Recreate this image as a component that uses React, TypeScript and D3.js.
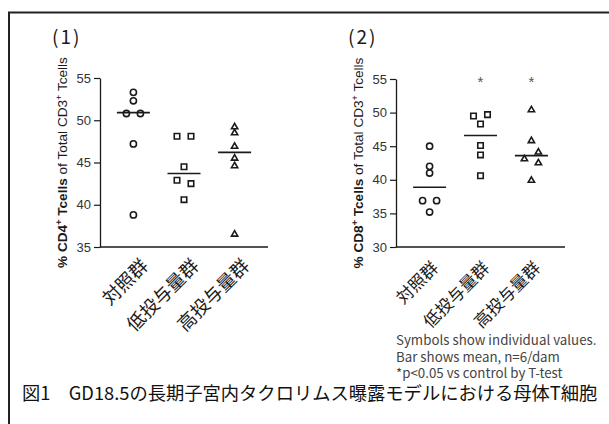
import React, { useEffect, useRef } from 'react';
import * as d3 from 'd3';

// categories and values
const categories = ['対照群', '低投与量群', '高投与量群'];

const cd4Control = [53.3, 52.3, 50.8, 50.8, 47.2, 38.8];
const cd4Low = [48.1, 48.1, 44.5, 42.9, 42.5, 40.6];
const cd4High = [49.2, 48.5, 46.9, 45.5, 44.6, 36.5];
const cd4Bars = [50.9, 43.7, 46.2];
const cd4Ticks = [35, 40, 45, 50, 55];
const cd4Sig = ['', '', ''];

const cd8Control = [45.0, 42.0, 41.0, 36.9, 36.9, 35.2];
const cd8Low = [49.5, 49.7, 48.3, 45.1, 43.7, 40.6];
const cd8High = [50.4, 45.8, 44.1, 43.1, 42.5, 39.9];
const cd8Bars = [38.9, 46.6, 43.6];
const cd8Ticks = [30, 35, 40, 45, 50, 55];
const cd8Sig = ['', '*', '*'];

const notes = [
  'Symbols show individual values.',
  'Bar shows mean, n=6/dam',
  '*p<0.05 vs control by T-test',
];
const caption = '図1　GD18.5の長期子宮内タクロリムス曝露モデルにおける母体T細胞';

const W = 609;
const H = 424;
const SANS = '"Liberation Sans", Arial, sans-serif';
const JP = '"Noto Sans CJK JP", "Noto Sans", sans-serif';
const INK = '#1a1a1a';

// spread points that would overlap sideways (Prism-like scatter)
const dodge = (vals: number[], y: (v: number) => number, gap = 14) => {
  const order = vals.map((v, i) => i).sort((a, b) => vals[b] - vals[a]);
  const clusters: number[][] = [];
  order.forEach((i, k) => {
    if (k > 0 && Math.abs(y(vals[i]) - y(vals[order[k - 1]])) < 5.5) {
      clusters[clusters.length - 1].push(i);
    } else clusters.push([i]);
  });
  const off = vals.map(() => 0);
  const multi: number[] = [];
  clusters.forEach(c => {
    if (c.length < 2) return;
    const s = [...c].sort((a, b) => a - b);
    s.forEach((i, k) => {
      off[i] = (k - (s.length - 1) / 2) * gap;
      multi.push(i);
    });
  });
  clusters.forEach(c => {
    if (c.length > 1) return;
    const i = c[0];
    multi.forEach(j => {
      if (Math.abs(off[j]) < 9 && Math.abs(y(vals[i]) - y(vals[j])) < 7) {
        off[i] = -Math.sign(off[j]) * (gap / 2);
      }
    });
  });
  return off;
};

type Panel = {
  left: number;
  right: number;
  top: number;
  bottom: number;
  domain: [number, number];
  ticks: number[];
  groups: number[][];
  bars: number[];
  sig: string[];
  cell: string;
  title: string;
  catSize: number;
  catDx: number;
  catDy: number;
};

const drawPanel = (svg: any, p: Panel) => {
  const g = svg.append('g');

  const x = d3
    .scalePoint()
    .domain(categories)
    .range([p.left, p.right])
    .padding(0.66);

  const y = d3.scaleLinear().domain(p.domain).range([p.bottom, p.top]);

  // title
  g.append('text')
    .attr('x', p.left - 48)
    .attr('y', 44)
    .attr('font-family', JP)
    .attr('font-size', 19)
    .attr('letter-spacing', 2)
    .attr('fill', INK)
    .text(p.title);

  // y axis
  const yAxis = g
    .append('g')
    .attr('transform', `translate(${p.left},0)`)
    .call(d3.axisLeft(y).tickValues(p.ticks).tickSize(6).tickSizeOuter(0).tickPadding(3));
  yAxis.select('.domain').attr('stroke', INK).attr('stroke-width', 1.3);
  yAxis.selectAll('.tick line').attr('stroke', INK).attr('stroke-width', 1.2);
  yAxis
    .selectAll('.tick text')
    .attr('font-family', SANS)
    .attr('font-size', 13)
    .attr('fill', '#333');

  // x axis line
  g.append('line')
    .attr('x1', p.left)
    .attr('x2', p.right)
    .attr('y1', p.bottom)
    .attr('y2', p.bottom)
    .attr('stroke', INK)
    .attr('stroke-width', 1.3);

  // category labels
  categories.forEach(c => {
    g.append('text')
      .attr('transform', `translate(${x(c)! + p.catDx},${p.bottom + p.catDy}) rotate(-45)`)
      .attr('text-anchor', 'end')
      .attr('font-family', JP)
      .attr('font-size', p.catSize)
      .attr('fill', INK)
      .text(c);
  });

  // y label
  const lab = g
    .append('text')
    .attr('transform', `translate(${p.left - 33},${(p.top + p.bottom) / 2}) rotate(-90)`)
    .attr('text-anchor', 'middle')
    .attr('font-family', SANS)
    .attr('font-size', 13.6)
    .attr('fill', INK);
  lab.append('tspan').attr('font-weight', 'bold').text(`% ${p.cell}`);
  lab.append('tspan').attr('font-weight', 'bold').attr('font-size', 9).attr('dy', -5).text('+');
  lab.append('tspan').attr('font-weight', 'bold').attr('dy', 5).text(' Tcells');
  lab.append('tspan').text(' of Total CD3');
  lab.append('tspan').attr('font-size', 9).attr('dy', -5).text('+');
  lab.append('tspan').attr('dy', 5).text(' Tcells');

  // symbols
  const shapes = [d3.symbolCircle, d3.symbolSquare, d3.symbolTriangle];
  const sizes = [30, 30, 17];
  p.groups.forEach((vals, gi) => {
    const cx = x(categories[gi])!;
    const off = dodge(vals, y);
    const sym = d3.symbol().type(shapes[gi]).size(sizes[gi]);
    g.selectAll(null)
      .data(vals)
      .enter()
      .append('path')
      .attr('d', sym)
      .attr('transform', (d: number, i: number) => `translate(${cx + off[i]},${y(d)})`)
      .attr('fill', 'white')
      .attr('stroke', INK)
      .attr('stroke-width', 1.6);
  });

  // bars
  g.selectAll(null)
    .data(p.bars)
    .enter()
    .append('line')
    .attr('x1', (d: number, i: number) => x(categories[i])! - 16.5)
    .attr('x2', (d: number, i: number) => x(categories[i])! + 16.5)
    .attr('y1', (d: number) => y(d))
    .attr('y2', (d: number) => y(d))
    .attr('stroke', INK)
    .attr('stroke-width', 1.6);

  // significance marks
  g.selectAll(null)
    .data(p.sig)
    .enter()
    .append('text')
    .attr('x', (d: string, i: number) => x(categories[i])!)
    .attr('y', y(p.domain[1]) + 8)
    .attr('text-anchor', 'middle')
    .attr('font-family', SANS)
    .attr('font-size', 15)
    .attr('fill', '#555')
    .text((d: string) => d);
};

const App = () => {
  const ref = useRef<SVGSVGElement>(null);

  useEffect(() => {
    const svg = d3.select(ref.current);
    svg.selectAll('*').remove();

    svg.append('rect').attr('width', W).attr('height', H).attr('fill', 'white');

    // frame
    svg
      .append('path')
      .attr('d', `M9,${H + 5}V12.5H${W + 5}`)
      .attr('fill', 'none')
      .attr('stroke', '#222')
      .attr('stroke-width', 2);

    drawPanel(svg, {
      left: 100,
      right: 268,
      top: 78,
      bottom: 247,
      domain: [35, 55],
      ticks: cd4Ticks,
      groups: [cd4Control, cd4Low, cd4High],
      bars: cd4Bars,
      sig: cd4Sig,
      cell: 'CD4',
      title: '(1)',
      catSize: 18.5,
      catDx: 16,
      catDy: 20,
    });

    drawPanel(svg, {
      left: 396,
      right: 565,
      top: 79,
      bottom: 247,
      domain: [30, 55],
      ticks: cd8Ticks,
      groups: [cd8Control, cd8Low, cd8High],
      bars: cd8Bars,
      sig: cd8Sig,
      cell: 'CD8',
      title: '(2)',
      catSize: 17,
      catDx: 10,
      catDy: 22,
    });

    // notes
    svg
      .append('g')
      .selectAll('text')
      .data(notes)
      .enter()
      .append('text')
      .attr('x', 396)
      .attr('y', (d, i) => 345 + i * 16.5)
      .attr('font-family', JP)
      .attr('font-size', 13.3)
      .attr('fill', '#444')
      .text(d => d);

    // caption
    svg
      .append('text')
      .attr('x', 22)
      .attr('y', 400)
      .attr('font-family', JP)
      .attr('font-size', 18.3)
      .attr('fill', '#111')
      .text(caption);
  }, []);

  return (
    <svg
      ref={ref}
      width={W}
      height={H}
      style={{ position: 'absolute', left: 0, top: 0, display: 'block' }}
    />
  );
};

export default App;
